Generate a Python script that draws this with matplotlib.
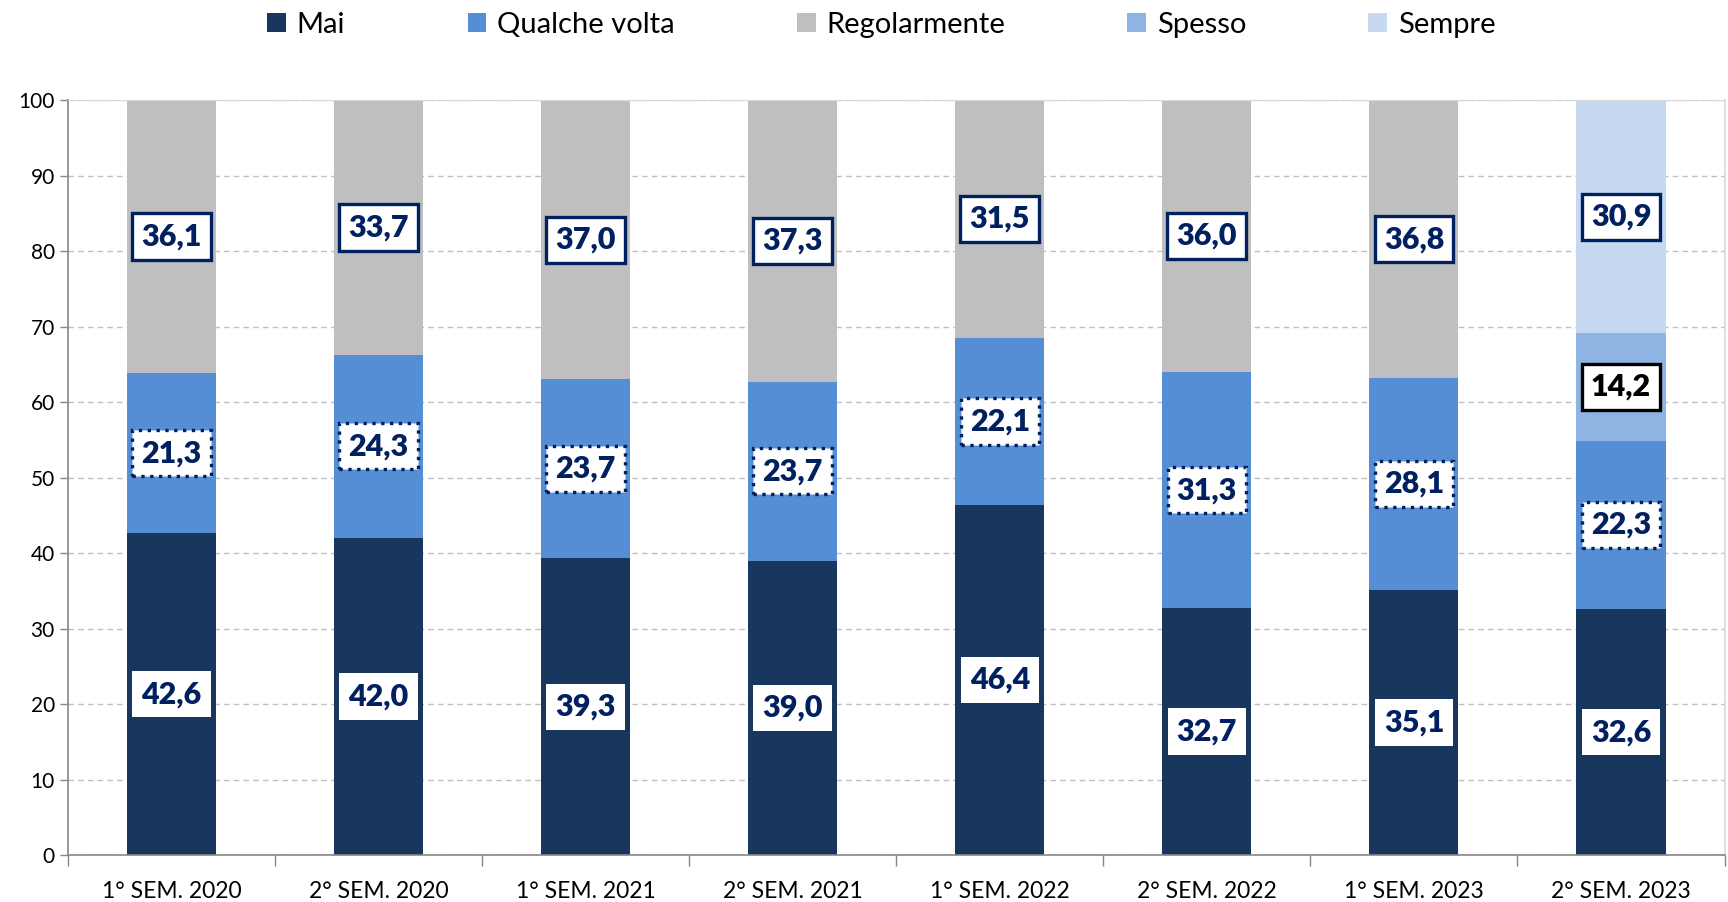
import matplotlib.pyplot as plt
import numpy as np
from matplotlib.patches import Patch

plt.rcParams['font.family'] = ['Lato', 'DejaVu Sans']

periods = ['1° SEM. 2020', '2° SEM. 2020', '1° SEM. 2021', '2° SEM. 2021',
           '1° SEM. 2022', '2° SEM. 2022', '1° SEM. 2023', '2° SEM. 2023']
mai = [42.6, 42.0, 39.3, 39.0, 46.4, 32.7, 35.1, 32.6]
qualche_volta = [21.3, 24.3, 23.7, 23.7, 22.1, 31.3, 28.1, 22.3]
regolarmente = [36.1, 33.7, 37.0, 37.3, 31.5, 36.0, 36.8, 0.0]
spesso = [0.0, 0.0, 0.0, 0.0, 0.0, 0.0, 0.0, 14.2]
sempre = [0.0, 0.0, 0.0, 0.0, 0.0, 0.0, 0.0, 30.9]

navy = '#002060'
series = [
    ('Mai', mai, '#17375E', dict(ec='none'), navy),
    ('Qualche volta', qualche_volta, '#558ED5', dict(ec=navy, ls=':', lw=2.4), navy),
    ('Regolarmente', regolarmente, '#BFBFBF', dict(ec=navy, ls='-', lw=2.4), navy),
    ('Spesso', spesso, '#8DB4E2', dict(ec='black', ls='-', lw=2.4), 'black'),
    ('Sempre', sempre, '#C6D9F1', dict(ec=navy, ls='-', lw=2.4), navy),
]

fig = plt.figure(figsize=(17.28, 9.02), dpi=100)
ax = fig.add_axes([0.0394, 0.052, 0.9586, 0.837])

x = np.arange(len(periods))
bottom = np.zeros(len(periods))
handles = []
for name, vals, color, box, tcol in series:
    vals = np.array(vals)
    ax.bar(x, vals, width=0.43, bottom=bottom, color=color, zorder=2)
    for xi, b, v in zip(x, bottom, vals):
        if v <= 0:
            continue
        label = f'{v:.1f}'.replace('.', ',')
        ax.text(xi, b + v / 2, label, ha='center', va='center', fontsize=22,
                fontweight='heavy', color=tcol, zorder=4,
                bbox=dict(boxstyle='square,pad=0.3', fc='white', **box))
    bottom += vals
    handles.append(Patch(facecolor=color, label=name))

ax.set_xlim(-0.5, len(periods) - 0.5)
ax.set_ylim(0, 100)
ax.set_yticks(range(0, 101, 10))
ax.yaxis.grid(True, ls=(0, (4, 3)), color='#BFBFBF', lw=1, zorder=0)
ax.set_axisbelow(True)

ax.set_xticks(x)
ax.set_xticklabels(periods, fontsize=16.5)
ax.set_xticks(np.arange(-0.5, len(periods)), minor=True)
ax.tick_params(axis='x', which='major', length=0, pad=19)
ax.tick_params(axis='x', which='minor', length=8, color='#868686', width=1)
ax.tick_params(axis='y', labelsize=15, length=6, color='#868686', width=1)

for side in ['left', 'bottom', 'right']:
    ax.spines[side].set_color('#868686')
    ax.spines[side].set_linewidth(1.2)
ax.spines['right'].set_color('#D9D9D9')
ax.spines['top'].set_color('#D9D9D9')

fig.legend(handles=handles, loc='upper center', bbox_to_anchor=(0.51, 1.016),
           ncol=5, frameon=False, fontsize=21, handlelength=0.65, handleheight=0.65,
           handletextpad=0.35, columnspacing=4.2)

fig.savefig('out.png', dpi=100)
